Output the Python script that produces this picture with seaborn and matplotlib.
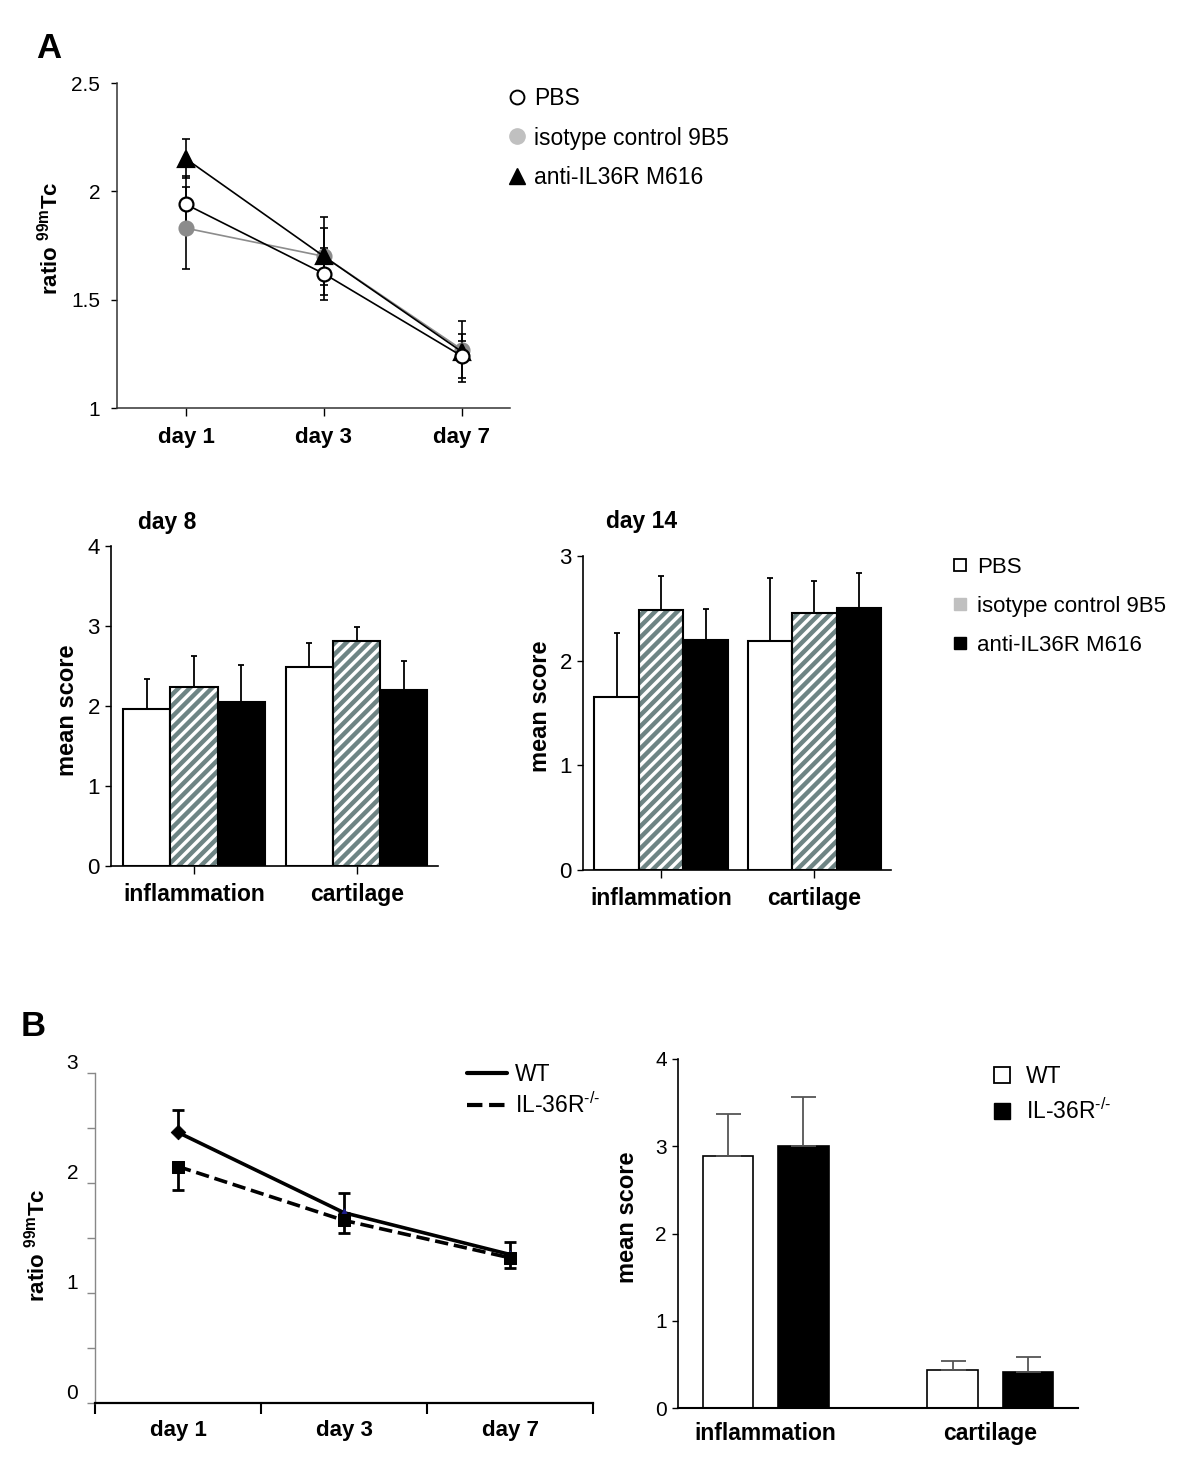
import numpy as np
import pandas as pd
import seaborn as sns
import matplotlib
matplotlib.use("Agg")
import matplotlib.pyplot as plt
from matplotlib.lines import Line2D
from matplotlib.patches import Rectangle

# ---------------- data ----------------
days = ["day 1", "day 3", "day 7"]

pbs_A = [1.94, 1.62, 1.24]
pbs_A_err = [0.13, 0.12, 0.10]
iso_A = [1.83, 1.70, 1.27]
iso_A_err = [0.19, 0.13, 0.04]
anti_A = [2.15, 1.70, 1.26]
anti_A_err = [0.09, 0.18, 0.14]

score_groups = ["inflammation", "cartilage"]
treatments = ["PBS", "isotype control 9B5", "anti-IL36R M616"]

d8_pbs = [1.96, 2.49]
d8_pbs_err = [0.38, 0.30]
d8_iso = [2.24, 2.81]
d8_iso_err = [0.39, 0.18]
d8_anti = [2.05, 2.20]
d8_anti_err = [0.46, 0.36]

d14_pbs = [1.65, 2.19]
d14_pbs_err = [0.61, 0.60]
d14_iso = [2.48, 2.46]
d14_iso_err = [0.33, 0.30]
d14_anti = [2.20, 2.50]
d14_anti_err = [0.29, 0.34]

genotypes = ["WT", "IL-36R$^{\\text{-/-}}$"]
wt_line = [2.46, 1.73, 1.35]
wt_line_err = [0.20, 0.18, 0.11]
ko_line = [2.15, 1.66, 1.32]
ko_line_err = [0.21, 0.11, 0.09]

wt_bar = [2.89, 0.44]
wt_bar_err = [0.48, 0.10]
ko_bar = [3.00, 0.41]
ko_bar_err = [0.57, 0.17]

# ---------------- style ----------------
sns.set_theme(style="ticks")
plt.rcParams["font.family"] = ["Liberation Sans", "DejaVu Sans"]
plt.rcParams["mathtext.fontset"] = "custom"
plt.rcParams["mathtext.rm"] = "Liberation Sans"
plt.rcParams["mathtext.it"] = "Liberation Sans:italic"
plt.rcParams["mathtext.bf"] = "Liberation Sans:bold"
plt.rcParams["text.color"] = "black"
plt.rcParams["axes.labelcolor"] = "black"
plt.rcParams["xtick.color"] = "black"
plt.rcParams["ytick.color"] = "black"
plt.rcParams["axes.edgecolor"] = "black"
plt.rcParams["hatch.linewidth"] = 3.2

HATCH_COLOR = "#6e8484"

W, H = 1200, 1478
fig = plt.figure(figsize=(W / 100, H / 100), dpi=100)


def rect(l, t, r, b):
    return [l / W, 1 - b / H, (r - l) / W, (b - t) / H]


def clean(ax):
    sns.despine(ax=ax)


# ---------------- Panel A line ----------------
axA = fig.add_axes(rect(117, 83, 510, 408))
series_A = [
    (iso_A, iso_A_err, "#8c8c8c", "o", "#8c8c8c", "#8c8c8c", 2),
    (anti_A, anti_A_err, "black", "^", "black", "black", 3),
    (pbs_A, pbs_A_err, "black", "o", "white", "black", 4),
]
for vals, errs, col, mk, mfc, mec, z in series_A:
    axA.errorbar(days, vals, yerr=errs, fmt="none", ecolor="black",
                 elinewidth=1.2, capsize=3, capthick=1.2, zorder=1)
    sns.lineplot(x=days, y=vals, ax=axA, color=col, lw=1.2, marker=mk,
                 markersize=10 if mk == "o" else 11, markerfacecolor=mfc,
                 markeredgecolor=mec, markeredgewidth=1.6, sort=False, zorder=z)
axA.set_xlim(-0.5, 2.35)
axA.set_ylim(1, 2.5)
axA.set_yticks([1, 1.5, 2, 2.5])
axA.set_yticklabels(["1", "1.5", "2", "2.5"], fontsize=15)
axA.tick_params(axis="y", length=4, width=1, pad=8)
axA.tick_params(axis="x", length=6, width=1, pad=8)
for lab in axA.get_xticklabels():
    lab.set_fontsize(16)
    lab.set_fontweight("bold")
axA.set_ylabel(r"ratio $^{\mathbf{99m}}$Tc", fontsize=16, fontweight="bold")
axA.yaxis.set_label_coords(-0.138, 0.523)
axA.set_xlabel("")
clean(axA)
for s in ["left", "bottom"]:
    axA.spines[s].set_linewidth(1.1)
    axA.spines[s].set_color("#333333")

legA_handles = [
    Line2D([], [], ls="none", marker="o", markersize=10, mfc="white", mec="black", mew=1.4),
    Line2D([], [], ls="none", marker="o", markersize=11, mfc="#c0c0c0", mec="#c0c0c0"),
    Line2D([], [], ls="none", marker="^", markersize=11, mfc="black", mec="black"),
]
fig.legend(legA_handles, treatments, loc="upper left",
           bbox_to_anchor=(510 / W, 1 - 87 / H), frameon=False, fontsize=16.5,
           handlelength=0.6, handletextpad=0.45, labelspacing=0.72, borderpad=0,
           borderaxespad=0)


# ---------------- bar helper ----------------
def score_bars(ax, pbs, iso, anti, pbs_e, iso_e, anti_e, ymax):
    df = pd.DataFrame({
        "group": score_groups * 3,
        "treatment": np.repeat(treatments, len(score_groups)),
        "score": list(pbs) + list(iso) + list(anti),
    })
    sns.barplot(data=df, x="group", y="score", hue="treatment", ax=ax,
                palette=["white", "white", "black"], edgecolor="black",
                linewidth=1.5, width=0.87, errorbar=None, legend=False,
                order=score_groups, hue_order=treatments)
    errs = [pbs_e, iso_e, anti_e]
    bar_conts = list(ax.containers)
    for ci, cont in enumerate(bar_conts):
        for bi, bar in enumerate(cont.patches):
            xc = bar.get_x() + bar.get_width() / 2
            top = bar.get_height()
            ax.errorbar([xc], [top], yerr=[[0], [errs[ci][bi]]], fmt="none",
                        ecolor="black", elinewidth=1.3, capsize=2.5,
                        capthick=1.3, zorder=1)
            if ci == 1:
                bar.set_hatch("///")
                bar.set_edgecolor(HATCH_COLOR)
                bar.set_linewidth(0)
                ax.add_patch(Rectangle((bar.get_x(), bar.get_y()), bar.get_width(),
                                       bar.get_height(), fill=False,
                                       edgecolor="black", lw=1.5, zorder=3))
    ax.set_xlim(-0.51, 1.50)
    ax.set_ylim(0, ymax)
    ax.set_yticks(range(0, ymax + 1))
    ax.set_yticklabels([str(v) for v in range(0, ymax + 1)], fontsize=16)
    ax.tick_params(axis="y", length=4, width=1, pad=4)
    ax.tick_params(axis="x", length=6, width=1, pad=6)
    for lab in ax.get_xticklabels():
        lab.set_fontsize(16.5)
        lab.set_fontweight("bold")
    ax.set_xlabel("")
    ax.set_ylabel("mean score", fontsize=17, fontweight="bold")
    clean(ax)
    for s in ["left", "bottom"]:
        ax.spines[s].set_linewidth(1.2)


ax8 = fig.add_axes(rect(111, 546, 438, 866))
score_bars(ax8, d8_pbs, d8_iso, d8_anti, d8_pbs_err, d8_iso_err, d8_anti_err, 4)
ax8.yaxis.set_label_coords(-0.098, 0.4875)
fig.text(167 / W, 1 - 523 / H, "day 8", ha="center", va="center",
         fontsize=16.5, fontweight="bold")

ax14 = fig.add_axes(rect(583, 556, 891, 870))
score_bars(ax14, d14_pbs, d14_iso, d14_anti, d14_pbs_err, d14_iso_err, d14_anti_err, 3)
ax14.yaxis.set_label_coords(-0.101, 0.52)
fig.text(642 / W, 1 - 522 / H, "day 14", ha="center", va="center",
         fontsize=16.5, fontweight="bold")

legBar_handles = [
    Line2D([], [], ls="none", marker="s", markersize=9, mfc="white", mec="black", mew=1.3),
    Line2D([], [], ls="none", marker="s", markersize=9, mfc="#c0c0c0", mec="#c0c0c0"),
    Line2D([], [], ls="none", marker="s", markersize=9, mfc="black", mec="black"),
]
fig.legend(legBar_handles, treatments, loc="upper left",
           bbox_to_anchor=(953 / W, 1 - 557 / H), frameon=False, fontsize=16,
           handlelength=0.6, handletextpad=0.47, labelspacing=0.8, borderpad=0,
           borderaxespad=0)

# ---------------- Panel B line ----------------
axBl = fig.add_axes(rect(95, 1073, 593, 1403))
axBl.errorbar(days, wt_line, yerr=[[0] * len(days), wt_line_err], fmt="none",
              ecolor="black", elinewidth=2, capsize=4.5, capthick=2, zorder=1)
axBl.errorbar(days, ko_line, yerr=[ko_line_err, [0] * len(days)], fmt="none",
              ecolor="black", elinewidth=2, capsize=4.5, capthick=2, zorder=1)
sns.lineplot(x=days, y=wt_line, ax=axBl, color="black", lw=2.6, sort=False, zorder=2)
sns.lineplot(x=days, y=ko_line, ax=axBl, color="black", lw=2.6, ls="--",
             sort=False, zorder=2)
sns.scatterplot(x=days[:1], y=wt_line[:1], ax=axBl, marker="D", s=55,
                color="black", edgecolor="black", zorder=3)
sns.scatterplot(x=days[1:], y=wt_line[1:], ax=axBl, marker="^", s=45,
                color="#1c1c8c", edgecolor="#1c1c8c", zorder=3)
sns.scatterplot(x=days, y=ko_line, ax=axBl, marker="s", s=85,
                color="black", edgecolor="black", zorder=4)
axBl.set_xlim(-0.5, 2.5)
axBl.set_ylim(0, 3)
axBl.set_yticks([0, 1, 2, 3])
axBl.set_yticklabels(["0", "1", "2", "3"], fontsize=15)
axBl.set_yticks([0.5, 1.5, 2.5], minor=True)
axBl.tick_params(axis="y", which="both", length=6, width=1, color="#888888", pad=6)
for lab in axBl.get_yticklabels():
    lab.set_va("bottom")
axBl.set_xticks([-0.5, 0.5, 1.5, 2.5], minor=True)
axBl.tick_params(axis="x", which="major", length=0, pad=12)
axBl.tick_params(axis="x", which="minor", length=8, width=1.5)
for lab in axBl.get_xticklabels():
    lab.set_fontsize(16)
    lab.set_fontweight("bold")
axBl.set_xlabel("")
axBl.set_ylabel(r"ratio $^{\mathbf{99m}}$Tc", fontsize=16, fontweight="bold")
axBl.yaxis.set_label_coords(-0.092, 0.479)
clean(axBl)
axBl.spines["left"].set_color("#888888")
axBl.spines["left"].set_linewidth(1)
axBl.spines["bottom"].set_linewidth(1.6)

legBl_handles = [
    Line2D([], [], color="black", lw=3),
    Line2D([], [], color="black", lw=3, ls="--"),
]
fig.legend(legBl_handles, genotypes, loc="upper left",
           bbox_to_anchor=(467 / W, 1 - 1063 / H), frameon=False, fontsize=16.5,
           handlelength=1.75, handletextpad=0.35, labelspacing=0.28, borderpad=0,
           borderaxespad=0)

# ---------------- Panel B bars ----------------
axBb = fig.add_axes(rect(678, 1059, 1078, 1408))
dfB = pd.DataFrame({
    "region": score_groups * 2,
    "genotype": np.repeat(["WT", "KO"], len(score_groups)),
    "score": list(wt_bar) + list(ko_bar),
})
sns.barplot(data=dfB, x="region", y="score", hue="genotype", ax=axBb,
            palette=["white", "black"], edgecolor="black", linewidth=1.2,
            width=0.67, gap=0.33, errorbar=None, legend=False,
            order=score_groups, hue_order=["WT", "KO"])
errsB = [wt_bar_err, ko_bar_err]
bar_contsB = list(axBb.containers)
for ci, cont in enumerate(bar_contsB):
    for bi, bar in enumerate(cont.patches):
        xc = bar.get_x() + bar.get_width() / 2
        axBb.errorbar([xc], [bar.get_height()], yerr=[[0], [errsB[ci][bi]]],
                      fmt="none", ecolor="#555555", elinewidth=1.3, capsize=9,
                      capthick=1.3, zorder=1)
axBb.set_xlim(-0.39, 1.39)
axBb.set_ylim(0, 4)
axBb.set_yticks([0, 1, 2, 3, 4])
axBb.set_yticklabels(["0", "1", "2", "3", "4"], fontsize=15)
axBb.tick_params(axis="y", length=4, width=1, pad=4)
axBb.tick_params(axis="x", length=0, pad=10)
for lab in axBb.get_xticklabels():
    lab.set_fontsize(16.5)
    lab.set_fontweight("bold")
axBb.set_xlabel("")
axBb.set_ylabel("mean score", fontsize=17, fontweight="bold")
axBb.yaxis.set_label_coords(-0.097, 0.547)
clean(axBb)
axBb.spines["left"].set_linewidth(1.2)
axBb.spines["bottom"].set_linewidth(1.5)

legBb_handles = [
    Line2D([], [], ls="none", marker="s", markersize=11, mfc="white", mec="black", mew=1.3),
    Line2D([], [], ls="none", marker="s", markersize=11, mfc="black", mec="black"),
]
fig.legend(legBb_handles, genotypes, loc="upper left",
           bbox_to_anchor=(993 / W, 1 - 1065 / H), frameon=False, fontsize=16.5,
           handlelength=0.75, handletextpad=0.7, labelspacing=0.45, borderpad=0,
           borderaxespad=0)

# ---------------- panel letters ----------------
fig.text(49 / W, 1 - 49 / H, "A", ha="center", va="center", fontsize=25, fontweight="bold")
fig.text(33 / W, 1 - 1027 / H, "B", ha="center", va="center", fontsize=25, fontweight="bold")

fig.savefig("out.png", dpi=100, facecolor="white")
